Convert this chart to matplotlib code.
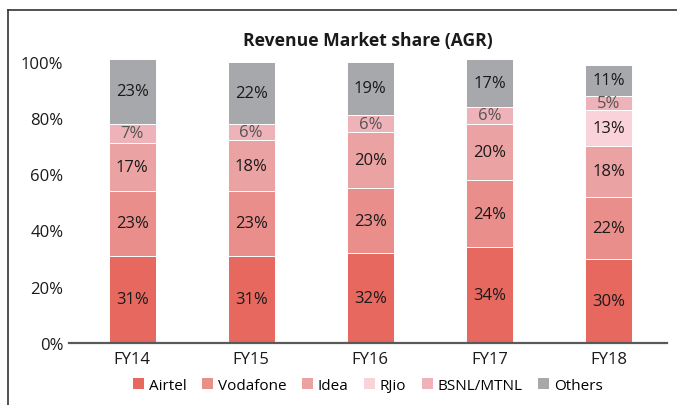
import numpy as np
import matplotlib.pyplot as plt
from matplotlib.lines import Line2D
from matplotlib.patches import Patch

plt.rcParams['font.family'] = ['Open Sans', 'DejaVu Sans']

years = ["FY14", "FY15", "FY16", "FY17", "FY18"]
airtel = [31, 31, 32, 34, 30]
vodafone = [23, 23, 23, 24, 22]
idea = [17, 18, 20, 20, 18]
rjio = [0, 0, 0, 0, 13]
bsnl = [7, 6, 6, 6, 5]
others = [23, 22, 19, 17, 11]

series = [
    ("Airtel", airtel, "#e6685f", "#1a1a1a"),
    ("Vodafone", vodafone, "#e98e8b", "#1a1a1a"),
    ("Idea", idea, "#eba2a2", "#1a1a1a"),
    ("RJio", rjio, "#f9d3d9", "#1a1a1a"),
    ("BSNL/MTNL", bsnl, "#eeb3b8", "#555555"),
    ("Others", others, "#a7a8ab", "#1a1a1a"),
]

fig = plt.figure(figsize=(6.77, 4.06), dpi=100)
ax = fig.add_axes([0.102, 0.153, 0.883, 0.727])

x = np.arange(len(years))
bottom = np.zeros(len(years))
for name, vals, color, tcolor in series:
    vals = np.array(vals, dtype=float)
    ax.bar(x, vals, 0.395, bottom=bottom, color=color, edgecolor="white",
           linewidth=0.7, label=name)
    for xi, b, v in zip(x, bottom, vals):
        if v > 0:
            ax.text(xi, b + v / 2, f"{v:.0f}%", ha="center", va="center",
                    fontsize=12, color=tcolor)
    bottom += vals

ax.set_xlim(-0.53, 4.49)
ax.set_ylim(0, 105)
ax.set_yticks([0, 20, 40, 60, 80, 100])
ax.set_yticklabels([f"{t}%" for t in [0, 20, 40, 60, 80, 100]])
ax.set_xticks(x)
ax.set_xticklabels(years)
ax.tick_params(length=0, labelsize=12, colors="#1a1a1a")
ax.tick_params(axis="x", pad=6)
ax.tick_params(axis="y", pad=4)
for s in ["top", "right", "left"]:
    ax.spines[s].set_visible(False)
ax.spines["bottom"].set_color("#595959")
ax.spines["bottom"].set_linewidth(1.6)

fig.text(0.543, 0.90, "Revenue Market share (AGR)", ha="center", va="center",
         fontsize=12.6, fontweight="bold", color="#1a1a1a")

handles = [Patch(facecolor=c, edgecolor="none") for _, _, c, _ in series]
labels = [n for n, _, _, _ in series]
fig.legend(handles, labels, loc="center", bbox_to_anchor=(0.543, 0.049),
           ncol=6, frameon=False, fontsize=11, handlelength=0.75,
           handleheight=0.75, handletextpad=0.3, columnspacing=1.0)

# outer frame (left and top edges)
fig.add_artist(Line2D([8 / 677, 8 / 677], [0, 1 - 11 / 406],
                      transform=fig.transFigure, color="#333333", lw=1.2))
fig.add_artist(Line2D([8 / 677, 1], [1 - 11 / 406, 1 - 11 / 406],
                      transform=fig.transFigure, color="#333333", lw=1.2))

fig.savefig("out.png", dpi=100)
